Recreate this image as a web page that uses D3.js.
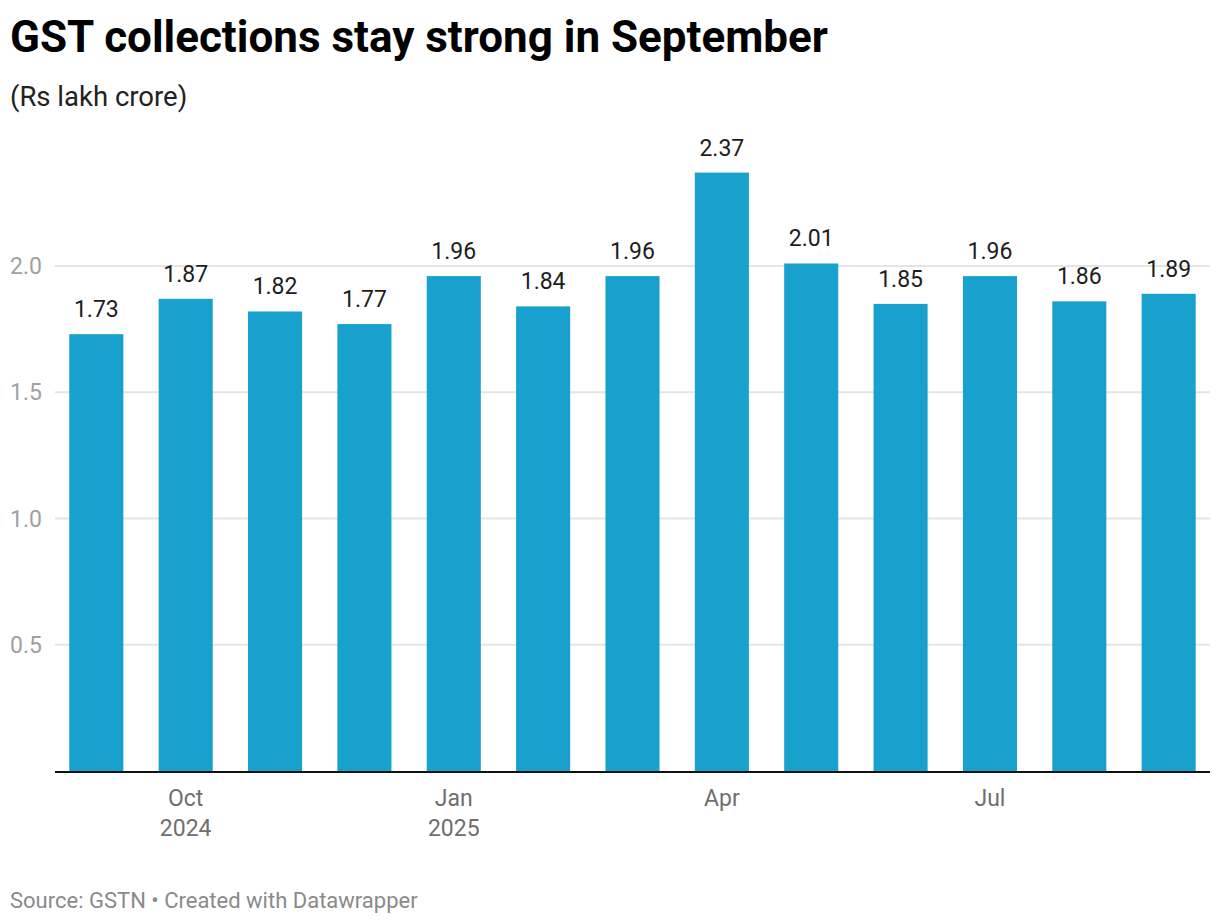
<!DOCTYPE html>
<html>
<head>
<meta charset="utf-8">
<script src="https://cdn.jsdelivr.net/npm/d3@7"></script>
<style>
  body { margin: 0; background: #fff; font-family: Roboto, sans-serif; }
  svg text { font-family: Roboto, sans-serif; }
</style>
</head>
<body>
<div id="chart"></div>
<script>
"use strict"

// months Sep 2024 .. Sep 2025
const months = ["Sep 2024", "Oct 2024", "Nov 2024", "Dec 2024", "Jan 2025", "Feb 2025", "Mar 2025",
    "Apr 2025", "May 2025", "Jun 2025", "Jul 2025", "Aug 2025", "Sep 2025"];
const values = [1.73, 1.87, 1.82, 1.77, 1.96, 1.84, 1.96, 2.37, 2.01, 1.85, 1.96, 1.86, 1.89];
const yTicks = [0.5, 1.0, 1.5, 2.0];
// x labels: [month, line1, line2]
const xLabels = [
    ["Oct 2024", "Oct", "2024"],
    ["Jan 2025", "Jan", "2025"],
    ["Apr 2025", "Apr", ""],
    ["Jul 2025", "Jul", ""]
];

const width = 1220, height = 924;
const left = 55, right = 1210, baseY = 771, topY = 266;

const svg = d3.select("#chart").append("svg")
    .attr("width", width)
    .attr("height", height);

// title + subtitle
svg.append("text")
    .attr("x", 10).attr("y", 52)
    .style("font-size", "44px").style("font-weight", "700").style("fill", "#000")
    .text("GST collections stay strong in September");

svg.append("text")
    .attr("x", 10).attr("y", 106)
    .style("font-size", "27.5px").style("fill", "#222")
    .text("(Rs lakh crore)");

let x = d3.scaleBand()
    .domain(months)
    .range([left, right])
    .paddingInner(0.395)
    .paddingOuter(0.16);

let y = d3.scaleLinear()
    .domain([0, 2.0])
    .range([baseY, topY]);

// gridlines
svg.append("g").selectAll("line")
    .data(yTicks)
    .enter().append("line")
    .attr("x1", left).attr("x2", right)
    .attr("y1", d => y(d)).attr("y2", d => y(d))
    .style("stroke", "#e5e5e5")
    .style("stroke-width", 2);

svg.append("g").selectAll("text")
    .data(yTicks)
    .enter().append("text")
    .attr("x", 10)
    .attr("y", d => y(d))
    .attr("dy", "0.35em")
    .style("font-size", "23px")
    .style("fill", "#a0a0a0")
    .text(d => d3.format(".1f")(d));

// bars
svg.append("g").selectAll("rect")
    .data(values)
    .enter().append("rect")
    .attr("x", (d, i) => x(months[i]))
    .attr("y", d => y(d))
    .attr("width", x.bandwidth())
    .attr("height", d => baseY - y(d))
    .style("fill", "#18a1cd");

// value labels
svg.append("g").selectAll("text")
    .data(values)
    .enter().append("text")
    .attr("x", (d, i) => x(months[i]) + x.bandwidth() / 2)
    .attr("y", d => y(d) - 17)
    .attr("text-anchor", "middle")
    .style("font-size", "23px")
    .style("fill", "#1d1d1d")
    .text(d => d3.format(".2f")(d));

// baseline
svg.append("line")
    .attr("x1", left).attr("x2", right)
    .attr("y1", baseY + 1).attr("y2", baseY + 1)
    .style("stroke", "#111")
    .style("stroke-width", 2);

// x axis labels
let xl = svg.append("g").selectAll("text")
    .data(xLabels)
    .enter().append("text")
    .attr("text-anchor", "middle")
    .style("font-size", "23px")
    .style("fill", "#6f6f6f");

xl.append("tspan")
    .attr("x", d => x(d[0]) + x.bandwidth() / 2)
    .attr("y", 806)
    .text(d => d[1]);

xl.append("tspan")
    .attr("x", d => x(d[0]) + x.bandwidth() / 2)
    .attr("y", 836)
    .text(d => d[2]);

// footer
svg.append("text")
    .attr("x", 10).attr("y", 908)
    .style("font-size", "22px")
    .style("fill", "#8a8a8a")
    .text("Source: GSTN \u2022 Created with Datawrapper");
</script>
</body>
</html>
